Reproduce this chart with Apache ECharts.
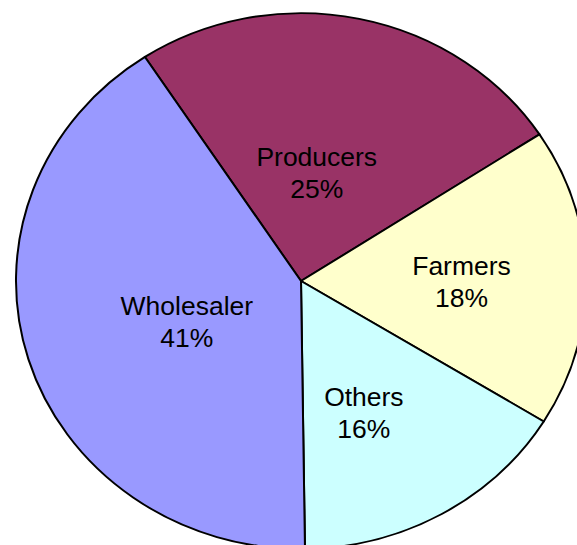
<!DOCTYPE html>
<html>
<head>
<meta charset="utf-8">
<title>Market share by channel</title>
<script src="https://cdn.jsdelivr.net/npm/echarts@6/dist/echarts.min.js"></script>
<style>
  html, body { margin: 0; padding: 0; background: #ffffff; overflow: hidden; }
  #wrap { width: 577px; height: 545px; overflow: hidden; position: relative; }
  /* the pie is drawn slightly flattened, so the canvas is squeezed vertically */
  #chart { width: 577px; height: 580px; transform: scaleY(0.94); transform-origin: 0 0; }
</style>
</head>
<body>
<div id="wrap"><div id="chart"></div></div>
<script>
// Share of each channel, in percent (clockwise from the upper left)
const categories = ['Producers', 'Farmers', 'Others', 'Wholesaler'];
const shares = [25, 18, 16, 41];
const sliceColors = ['#993366', '#FFFFCC', '#CCFFFF', '#9999FF'];

// nudges that move each label from the slice's mid-radius point
const labelNudge = [[-14, 28], [15, 3], [-9, 14], [25, 1]];

const chart = echarts.init(document.getElementById('chart'), null, { renderer: 'svg' });

chart.setOption({
  animation: false,
  backgroundColor: '#ffffff',
  series: [{
    type: 'pie',
    center: [301, 299],
    radius: 285,
    startAngle: 123.2,
    clockwise: true,
    avoidLabelOverlap: false,
    silent: true,
    emphasis: { disabled: true },
    itemStyle: { borderColor: '#000000', borderWidth: 2 },
    label: {
      show: true,
      position: 'inside',
      formatter: '{b}\n{c}%',
      color: '#000000',
      fontFamily: 'Arial, "Liberation Sans", sans-serif',
      fontSize: 26.5,
      lineHeight: 34,
      align: 'center'
    },
    labelLine: { show: false },
    labelLayout: function (params) {
      const n = labelNudge[params.dataIndex];
      return { dx: n[0], dy: n[1] };
    },
    data: categories.map((name, i) => ({
      name: name,
      value: shares[i],
      itemStyle: { color: sliceColors[i] }
    }))
  }]
});
</script>
</body>
</html>
